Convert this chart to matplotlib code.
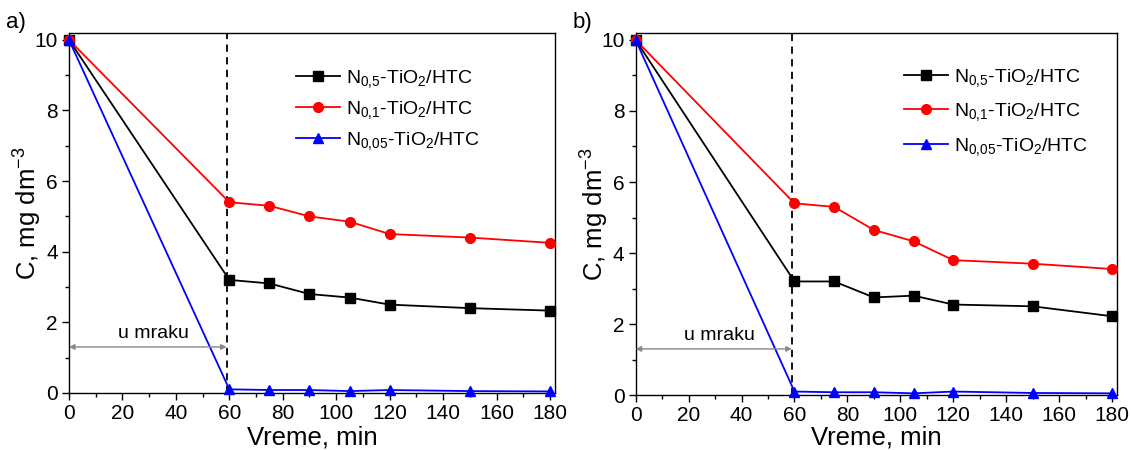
import numpy as np
import matplotlib
matplotlib.use('Agg')
import matplotlib.pyplot as plt

plt.rcParams['font.family'] = ['Liberation Sans', 'DejaVu Sans']
plt.rcParams['mathtext.default'] = 'regular'

time_min = [0, 60, 75, 90, 105, 120, 150, 180]
labels = ['N$_{0{,}5}$-TiO$_2$/HTC', 'N$_{0{,}1}$-TiO$_2$/HTC', 'N$_{0{,}05}$-TiO$_2$/HTC']

# panel a)
a_n05 = [10, 3.2, 3.1, 2.8, 2.7, 2.5, 2.4, 2.33]
a_n01 = [10, 5.4, 5.3, 5.0, 4.85, 4.5, 4.4, 4.25]
a_n005 = [10, 0.1, 0.08, 0.08, 0.05, 0.08, 0.05, 0.04]

# panel b)
b_n05 = [10, 3.2, 3.2, 2.75, 2.8, 2.55, 2.5, 2.22]
b_n01 = [10, 5.4, 5.3, 4.65, 4.33, 3.8, 3.7, 3.55]
b_n005 = [10, 0.1, 0.08, 0.08, 0.05, 0.1, 0.06, 0.05]

dark_end = 59
styles = [('black', 's'), ('red', 'o'), ('blue', '^')]


def draw_panel(ax, series, tag, leg_anchor, leg_space, xpad):
    for (color, marker), y, lab in zip(styles, series, labels):
        ax.plot(time_min, y, color=color, marker=marker, markersize=7,
                linewidth=1.3, label=lab, clip_on=False, zorder=3)
    ax.axvline(dark_end, color='black', linestyle=(0, (4, 3)), linewidth=1.3, zorder=2)
    ax.annotate('', xy=(0, 1.3), xytext=(dark_end, 1.3),
                arrowprops=dict(arrowstyle='<|-|>', color='#888888', lw=1.0,
                                mutation_scale=8, shrinkA=0, shrinkB=0))
    ax.text(dark_end / 2 + 2, 1.45, 'u mraku', ha='center', va='bottom', fontsize=14)

    ax.set_xlim(0, 182)
    ax.set_ylim(0, 10.2)
    ax.set_xticks(np.arange(0, 181, 20))
    ax.set_xticks(np.arange(0, 181, 10), minor=True)
    ax.set_yticks(np.arange(0, 11, 2))
    ax.set_yticks(np.arange(1, 10, 2), minor=True)
    ax.tick_params(which='both', direction='out', labelsize=15, width=1.0)
    ax.tick_params(which='major', length=5, pad=3)
    ax.tick_params(which='minor', length=3)
    for s in ax.spines.values():
        s.set_linewidth(1.0)
    ax.set_xlabel('Vreme, min', fontsize=18.5, labelpad=xpad)
    ax.set_ylabel('C, mg dm$^{-3}$', fontsize=18.5, labelpad=-7)
    ax.legend(loc='upper left', bbox_to_anchor=leg_anchor, frameon=False,
              fontsize=14, handlelength=2.3, handletextpad=0.3, labelspacing=leg_space)
    ax.text(-0.13, 1.0, tag, transform=ax.transAxes, fontsize=16, va='bottom')


fig = plt.figure(figsize=(11.31, 4.5), dpi=100)
ax1 = fig.add_axes([0.061, 0.127, 0.430, 0.800])
ax2 = fig.add_axes([0.562, 0.122, 0.426, 0.805])

draw_panel(ax1, [a_n05, a_n01, a_n005], 'a)', (0.43, 0.95), 0.45, 2)
draw_panel(ax2, [b_n05, b_n01, b_n005], 'b)', (0.52, 0.955), 0.65, 0)

fig.savefig('out.png', dpi=100)
